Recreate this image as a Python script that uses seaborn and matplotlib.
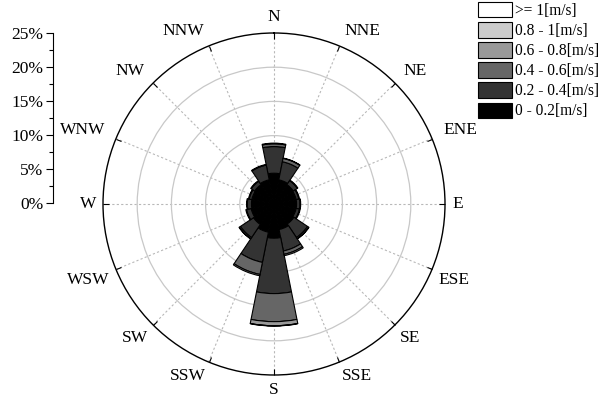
import numpy as np
import matplotlib
matplotlib.use("Agg")
import matplotlib.pyplot as plt
import seaborn as sns
from matplotlib.patches import Patch

# ---- data (percent frequency per direction and speed bin) ----
directions = ["N", "NNE", "NE", "ENE", "E", "ESE", "SE", "SSE",
              "S", "SSW", "SW", "WSW", "W", "WNW", "NW", "NNW"]
bin_labels = ["0 - 0.2[m/s]", "0.2 - 0.4[m/s]", "0.4 - 0.6[m/s]",
              "0.6 - 0.8[m/s]", "0.8 - 1[m/s]", ">= 1[m/s]"]
speed_0_02 = [4.5, 3.6, 3.4, 3.3, 3.3, 3.3, 3.5, 3.8, 5.0, 4.2, 3.6, 3.4, 3.3, 3.3, 3.4, 3.6]
speed_02_04 = [3.9, 2.7, 0.7, 0.4, 0.5, 0.5, 2.4, 3.2, 8.1, 4.5, 2.3, 0.7, 0.6, 0.4, 0.6, 2.2]
speed_04_06 = [0.4, 0.5, 0.1, 0.1, 0.1, 0.1, 0.2, 0.5, 4.1, 1.8, 0.2, 0.1, 0.1, 0.1, 0.1, 0.1]
speed_06_08 = [0.1, 0.05, 0.0, 0.0, 0.0, 0.0, 0.05, 0.2, 0.6, 0.2, 0.05, 0.0, 0.0, 0.0, 0.0, 0.0]
speed_08_1 = [0.0, 0.0, 0.0, 0.0, 0.0, 0.0, 0.0, 0.0, 0.05, 0.0, 0.0, 0.0, 0.0, 0.0, 0.0, 0.0]
speed_ge_1 = [0.0] * 16
radial_ticks = [0, 5, 10, 15, 20, 25]
radial_tick_labels = ["0%", "5%", "10%", "15%", "20%", "25%"]

series = [speed_0_02, speed_02_04, speed_04_06, speed_06_08, speed_08_1, speed_ge_1]
colors = ["#000000", "#333333", "#666666", "#999999", "#cccccc", "#ffffff"]

sns.set_theme(style="white")
plt.rcParams["font.family"] = ["Liberation Serif", "DejaVu Serif"]

W, H = 600, 403
fig = plt.figure(figsize=(6, 4.03), dpi=100)
cx, cy, R = 274, 204, 171
ax = fig.add_axes([(cx - R) / W, (H - cy - R) / H, 2 * R / W, 2 * R / H], projection="polar")
ax.set_theta_zero_location("N")
ax.set_theta_direction(-1)

theta = np.deg2rad(np.arange(len(directions)) * 22.5)
width = 2 * np.pi / len(directions)
bottom = np.zeros(len(directions))
for vals, c in zip(series, colors):
    vals = np.asarray(vals, dtype=float)
    lws = [0.8 if v > 0 else 0 for v in vals]
    ax.bar(theta, vals, width=width, bottom=bottom, color=c,
           edgecolor="black", linewidth=lws, align="center", zorder=3)
    bottom += vals

rmax = 25
ax.set_ylim(0, rmax)
ax.set_yticks([5, 10, 15, 20])
ax.set_yticklabels([])
ax.set_xticks(theta)
ax.set_xticklabels([])
ax.set_axisbelow(True)
ax.xaxis.grid(True, color="#b8b8b8", linestyle=(0, (2, 2)), linewidth=0.8)
ax.yaxis.grid(True, color="#c8c8c8", linestyle="-", linewidth=0.9)
ax.spines["polar"].set_color("black")
ax.spines["polar"].set_linewidth(1.0)
ax.tick_params(axis="x", which="major", bottom=True, top=True, direction="in",
               length=4, width=0.8, color="black")
ax.set_facecolor("white")

# direction labels placed outside the circle, aligned by quadrant
for t, lab in zip(theta, directions):
    s, c = np.sin(t), np.cos(t)
    ha = "center" if abs(s) < 1e-6 else ("left" if s > 0 else "right")
    if abs(c) < 1e-6:
        va, rr = "center", 178
    elif c > 0:
        va, rr = "baseline", 183
    else:
        va, rr = "top", 178
    ax.text(t, rmax * rr / R, lab, ha=ha, va=va, fontsize=12.5, color="black")

# radial scale shown as a separate axis on the left
ax2 = fig.add_axes([53 / W, (H - 203) / H, 0.002, 170 / H])
ax2.set_yticks(radial_ticks)
ax2.set_yticklabels(radial_tick_labels)
ax2.set_yticks(np.arange(0, 25.1, 2.5), minor=True)
ax2.set_xticks([])
ax2.set_ylim(0, 25)
ax2.set_xlim(0, 1)
for s in ["top", "right", "bottom"]:
    ax2.spines[s].set_visible(False)
ax2.spines["left"].set_color("black")
ax2.spines["left"].set_linewidth(0.8)
ax2.spines["left"].set_bounds(0, 25)
ax2.tick_params(axis="y", which="major", left=True, direction="out", length=5,
                width=0.8, color="black", labelsize=12.5, pad=2, labelcolor="black")
ax2.tick_params(axis="y", which="minor", left=True, direction="out", length=3,
                width=0.8, color="black")
ax2.patch.set_alpha(0)

handles = [Patch(facecolor=c, edgecolor="black", linewidth=0.8) for c in colors]
leg = fig.legend(handles[::-1], bin_labels[::-1], loc="upper left",
                 bbox_to_anchor=(478 / W, 1 - 2 / H), bbox_transform=fig.transFigure,
                 frameon=False, fontsize=11.2, handlelength=2.2, handleheight=1.15,
                 handletextpad=0.2, labelspacing=0.2, borderpad=0, borderaxespad=0)
for t in leg.get_texts():
    t.set_color("black")

fig.savefig("out.png", dpi=100, facecolor="white")
